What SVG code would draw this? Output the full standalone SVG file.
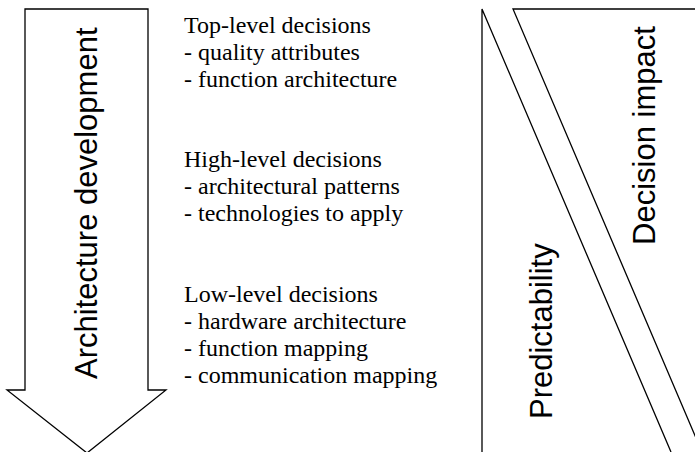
<svg xmlns="http://www.w3.org/2000/svg" width="695" height="452" viewBox="0 0 695 452">
  <style>
    .shape { fill: #fff; stroke: #000; stroke-width: 1.3; stroke-linejoin: miter; }
    .line { fill: none; stroke: #000; stroke-width: 1.3; }
    .serif { font-family: "Liberation Serif", "Times New Roman", serif; font-size: 24px; fill: #000; }
    .sans { font-family: "Liberation Sans", Arial, sans-serif; font-size: 31px; fill: #000; }
  </style>
  <rect width="695" height="452" fill="#fff"/>

  <!-- Downward development arrow -->
  <g id="arrow-development">
    <polygon class="shape" points="25,9 148,9 148,390 166,390 87,453 7,390 25,390"/>
    <text class="sans" transform="translate(97,379) rotate(-90)">Architecture development</text>
  </g>

  <!-- Decision levels -->
  <g id="top-level">
    <text class="serif" x="184" y="33">Top-level decisions</text>
    <text class="serif" x="184" y="60">- quality attributes</text>
    <text class="serif" x="184" y="87">- function architecture</text>
  </g>
  <g id="high-level">
    <text class="serif" x="184" y="167">High-level decisions</text>
    <text class="serif" x="184" y="194">- architectural patterns</text>
    <text class="serif" x="184" y="221">- technologies to apply</text>
  </g>
  <g id="low-level">
    <text class="serif" x="184" y="302">Low-level decisions</text>
    <text class="serif" x="184" y="329">- hardware architecture</text>
    <text class="serif" x="184" y="356">- function mapping</text>
    <text class="serif" x="184" y="383">- communication mapping</text>
  </g>

  <!-- Opposing wedges -->
  <g id="predictability">
    <polyline class="line" points="482,452 482,9 671,452"/>
    <text class="sans" transform="translate(552,419) rotate(-90)">Predictability</text>
  </g>
  <g id="decision-impact">
    <polyline class="line" points="700,9 513,9 702,452"/>
    <text class="sans" transform="translate(655,245) rotate(-90)">Decision impact</text>
  </g>
</svg>
